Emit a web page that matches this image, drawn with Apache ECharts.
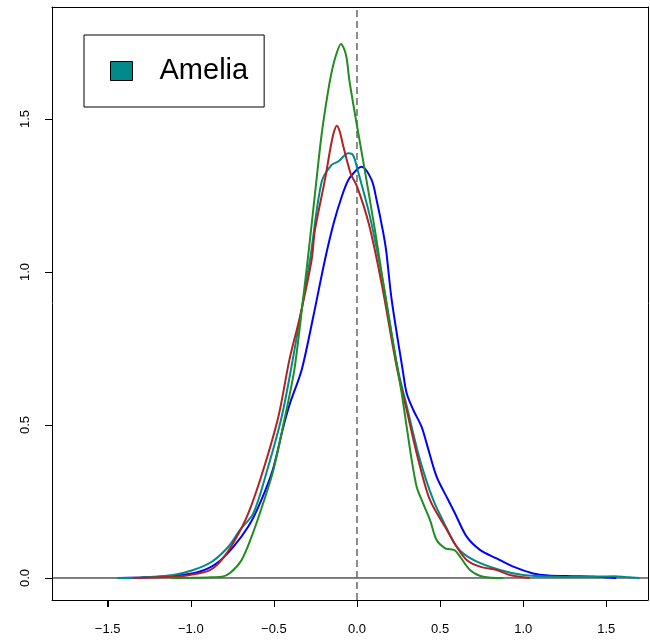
<!DOCTYPE html>
<html><head><meta charset="utf-8">
<script src="https://cdn.jsdelivr.net/npm/echarts@6/dist/echarts.min.js"></script>
<style>html,body{margin:0;padding:0;background:#fff}#c{width:650px;height:641px}</style>
</head><body><div id="c"></div>
<script>
const xTicks = [-1.5, -1, -0.5, 0, 0.5, 1, 1.5];
const yTicks = [0, 0.5, 1, 1.5];
const xRange = [-1.835, 1.751];
const yRange = [-0.0719, 1.866];

const blueX = [-1.44,-1.3,-1.2,-1.085,-0.945,-0.844,-0.744,-0.654,-0.584,-0.507,-0.443,-0.403,-0.333,-0.263,-0.193,-0.14,-0.092,-0.052,0.0,0.028,0.088,0.118,0.155,0.175,0.209,0.275,0.299,0.339,0.389,0.419,0.479,0.549,0.59,0.66,0.74,0.84,0.94,1.06,1.15,1.3,1.42,1.56];
const blueY = [0,0.002,0.004,0.007,0.021,0.048,0.102,0.168,0.244,0.353,0.494,0.571,0.68,0.854,1.039,1.16,1.246,1.301,1.335,1.344,1.301,1.235,1.137,1.072,0.908,0.68,0.604,0.549,0.494,0.44,0.331,0.255,0.211,0.135,0.092,0.064,0.037,0.015,0.008,0.006,0.005,0];

const redX = [-1.35,-1.145,-1.005,-0.884,-0.814,-0.734,-0.654,-0.564,-0.473,-0.407,-0.343,-0.273,-0.253,-0.193,-0.158,-0.14,-0.122,-0.104,-0.082,-0.037,0.0,0.07,0.148,0.239,0.299,0.369,0.439,0.529,0.6,0.66,0.74,0.84,0.92,1.04];
const redY = [0,0.003,0.01,0.026,0.059,0.124,0.211,0.353,0.527,0.712,0.854,1.039,1.137,1.301,1.41,1.455,1.478,1.46,1.41,1.32,1.28,1.16,0.963,0.69,0.549,0.386,0.255,0.168,0.102,0.059,0.037,0.026,0.01,0];

const tealX = [-1.44,-1.3,-1.105,-0.985,-0.874,-0.774,-0.704,-0.624,-0.54,-0.453,-0.387,-0.283,-0.213,-0.153,-0.113,-0.052,-0.024,0.004,0.078,0.158,0.243,0.305,0.379,0.459,0.535,0.6,0.7,0.86,1.0,1.2,1.4,1.55,1.62,1.7];
const tealY = [0,0.002,0.01,0.026,0.053,0.102,0.157,0.211,0.353,0.527,0.712,1.039,1.294,1.35,1.361,1.388,1.382,1.333,1.181,0.963,0.69,0.549,0.386,0.255,0.168,0.102,0.059,0.026,0.01,0.004,0.003,0.006,0.003,0];

const greenX = [-1.12,-1.0,-0.9,-0.814,-0.764,-0.694,-0.634,-0.564,-0.503,-0.433,-0.377,-0.325,-0.283,-0.247,-0.217,-0.187,-0.156,-0.126,-0.096,-0.066,-0.046,-0.002,0.034,0.108,0.174,0.245,0.269,0.299,0.329,0.359,0.389,0.439,0.479,0.53,0.56,0.59,0.62,0.68,0.76,0.88];
const greenY = [0,0.0005,0.002,0.004,0.016,0.059,0.135,0.245,0.353,0.527,0.68,0.908,1.105,1.284,1.431,1.546,1.644,1.709,1.745,1.709,1.627,1.484,1.373,1.137,0.908,0.68,0.604,0.494,0.386,0.298,0.255,0.19,0.124,0.097,0.094,0.09,0.07,0.026,0.004,0];

const legendName = 'Amelia';

function zip(xs, ys) { return xs.map((x, i) => [x, ys[i]]); }
function fmt(v) { return v.toFixed(1).replace('-', '\u2212'); }

const chart = echarts.init(document.getElementById('c'));
const curve = (name, color, xs, ys) => ({
  name: name, type: 'line', data: zip(xs, ys), smooth: 0.3, showSymbol: false, symbol: 'none',
  lineStyle: {color: color, width: 2}, itemStyle: {color: color}, silent: true, z: 3
});
const frameAxis = (pos, range) => ({
  type: 'value', position: pos, min: range[0], max: range[1],
  splitLine: {show: false}, axisLine: {show: true, onZero: false, lineStyle: {color: '#000', width: 1}},
  axisTick: {show: false}, axisLabel: {show: false}
});
chart.setOption({
  animation: false,
  grid: {left: 52, right: 2, top: 7, bottom: 41, show: false},
  xAxis: [{
    type: 'value', position: 'bottom', min: xRange[0], max: xRange[1],
    splitLine: {show: false}, axisLine: {show: true, onZero: false, lineStyle: {color: '#000', width: 1}},
    axisTick: {show: true, customValues: xTicks, length: 7, inside: false, lineStyle: {color: '#000', width: 1}},
    axisLabel: {customValues: xTicks, formatter: fmt, margin: 23, fontSize: 13, color: '#000', fontFamily: 'Liberation Sans'}
  }, frameAxis('top', xRange)],
  yAxis: [{
    type: 'value', position: 'left', min: yRange[0], max: yRange[1],
    splitLine: {show: false}, axisLine: {show: true, onZero: false, lineStyle: {color: '#000', width: 1}},
    axisTick: {show: true, customValues: yTicks, length: 7, inside: false, lineStyle: {color: '#000', width: 1}},
    axisLabel: {customValues: yTicks, formatter: v => v.toFixed(1), rotate: 90, margin: 20, fontSize: 13, color: '#000', fontFamily: 'Liberation Sans'}
  }, frameAxis('right', yRange)],
  legend: {
    data: [legendName], left: 84, top: 35, icon: 'rect', itemWidth: 22, itemHeight: 19,
    padding: [21, 16, 21, 26], borderColor: '#000', borderWidth: 1,
    selectedMode: false,
    itemStyle: {color: '#008B8B', borderColor: '#000', borderWidth: 1},
    textStyle: {fontSize: 29, fontFamily: 'Liberation Sans', color: '#000', padding: [0, 0, 0, 22], lineHeight: 30}
  },
  series: [
    {name: 'zero', type: 'line', data: [[xRange[0], 0], [xRange[1], 0]], showSymbol: false, symbol: 'none', lineStyle: {color: '#000', width: 1}, silent: true, z: 1},
    {name: 'vline', type: 'line', data: [[0, yRange[0]], [0, yRange[1]]], showSymbol: false, symbol: 'none', lineStyle: {color: '#666', width: 1.5, type: [7, 4]}, silent: true, z: 1},
    curve('Blue', '#0000FF', blueX, blueY),
    curve(legendName, '#008B8B', tealX, tealY),
    curve('Red', '#B22222', redX, redY),
    curve('Green', '#228B22', greenX, greenY)
  ]
});

// Tick marks placed through the chart's own scales (convertToPixel), drawn just outside the frame
const tickGraphics = [];
xTicks.forEach(v => {
  const p = chart.convertToPixel({xAxisIndex: 0, yAxisIndex: 0}, [v, yRange[0]]);
  const x = Math.round(p[0]) + 0.5, y = Math.round(p[1]);
  tickGraphics.push({type: 'line', silent: true, z: 100, shape: {x1: x, y1: y, x2: x, y2: y + 7}, style: {stroke: '#000', lineWidth: 1}});
});
yTicks.forEach(v => {
  const p = chart.convertToPixel({xAxisIndex: 0, yAxisIndex: 0}, [xRange[0], v]);
  const x = Math.round(p[0]), y = Math.round(p[1]) + 0.5;
  tickGraphics.push({type: 'line', silent: true, z: 100, shape: {x1: x, y1: y, x2: x - 7, y2: y}, style: {stroke: '#000', lineWidth: 1}});
});
chart.setOption({graphic: tickGraphics});
</script></body></html>
